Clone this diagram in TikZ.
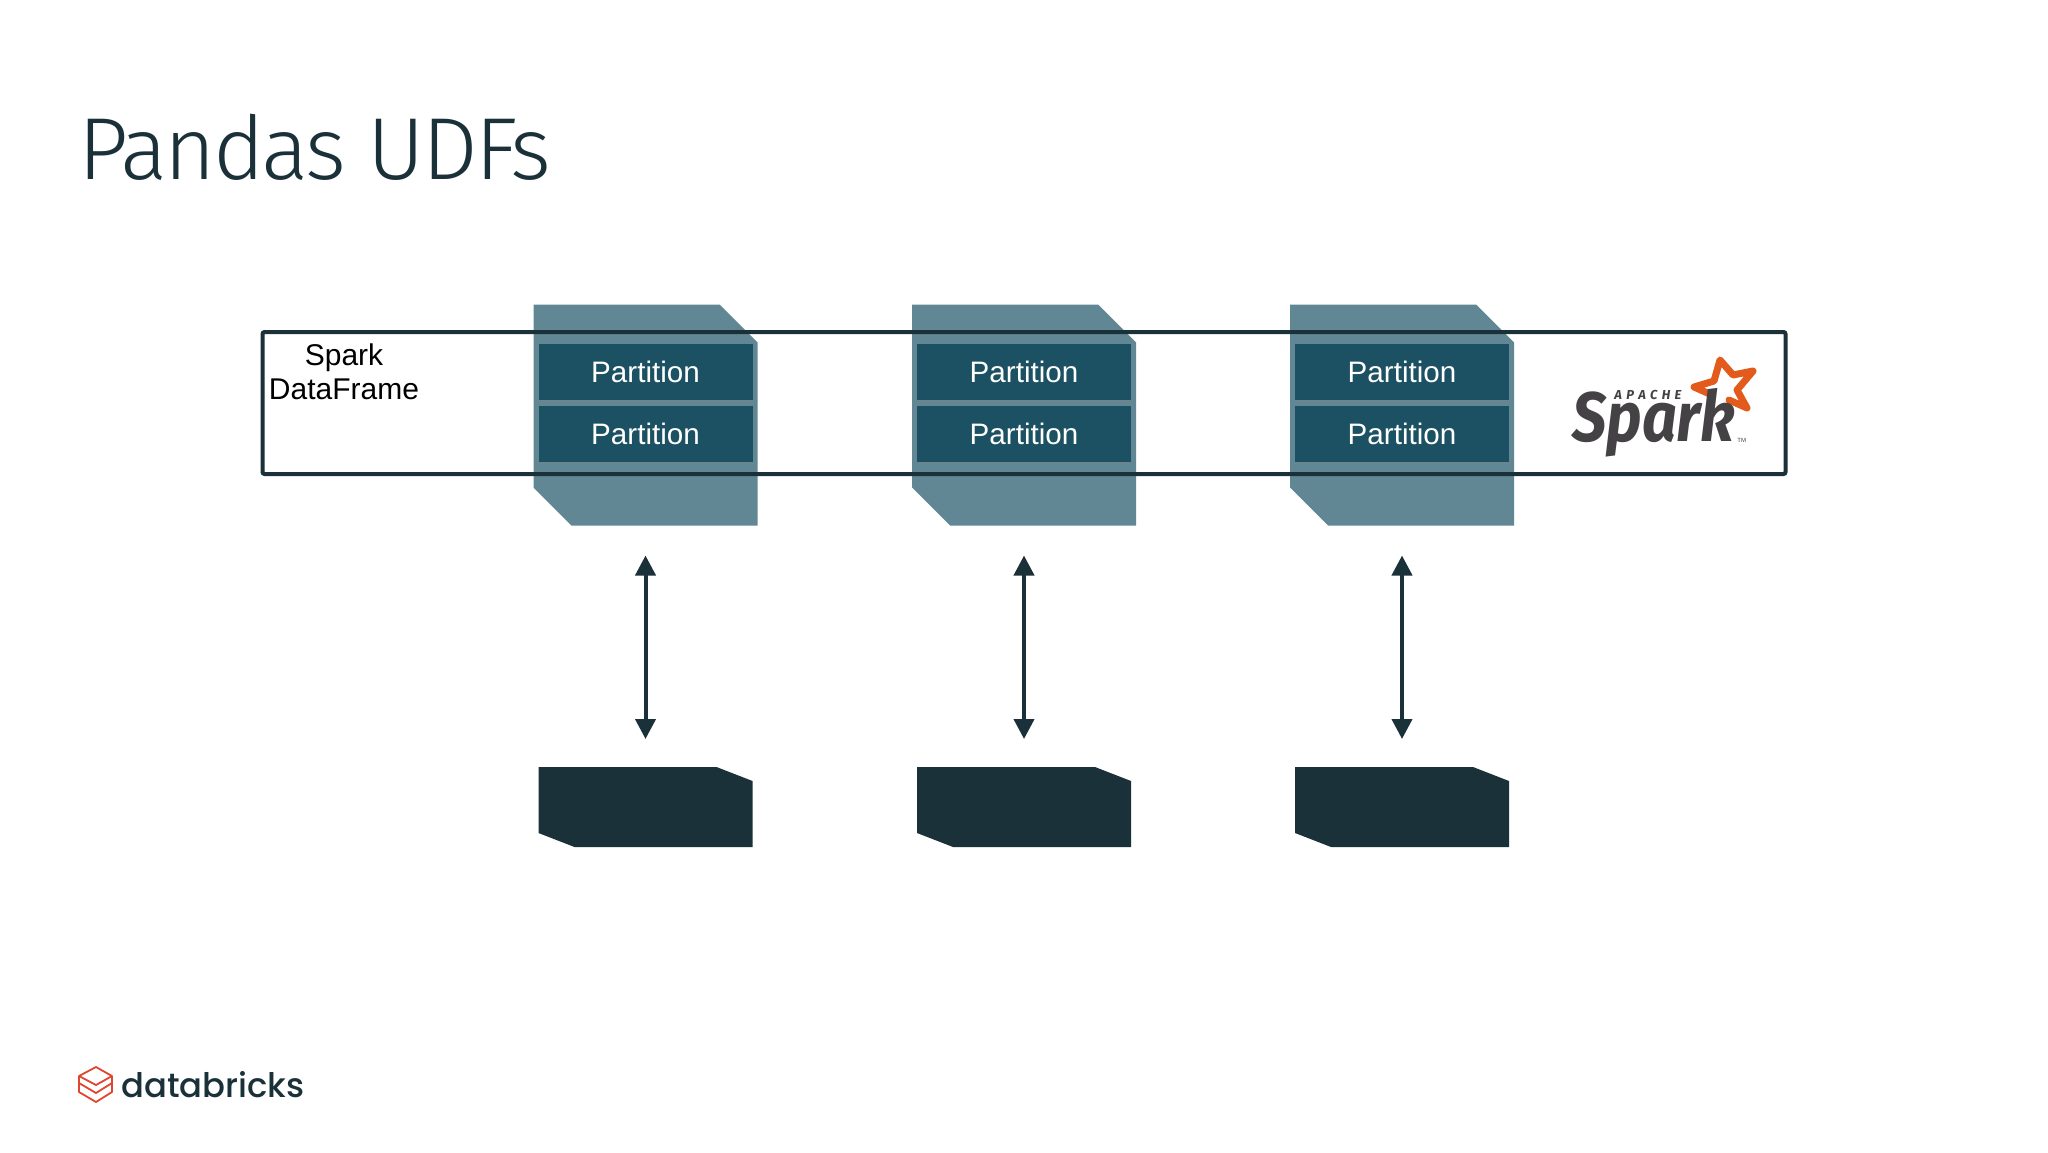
\documentclass[tikz,border=0pt]{standalone}
\usepackage{fontspec}
\setmainfont{Liberation Sans}
\newfontfamily\titlefont[LetterSpace=-3.3]{Fira Sans Light}
\newfontfamily\brandfont{Poppins Medium}
\newfontfamily\logofont{Fira Sans}
\usetikzlibrary{arrows.meta, shadows}
\definecolor{navy}{HTML}{1B3139}
\definecolor{plate}{HTML}{618794}
\definecolor{teal}{HTML}{1B5162}
\definecolor{flame}{HTML}{E25A1C}
\definecolor{coal}{HTML}{444244}
\definecolor{brick}{HTML}{E0452F}
\tikzset{
  platenode/.style={inner sep=0pt, outer sep=0pt, minimum width=112pt, minimum height=110.5pt},
  partnode/.style={fill=teal, text=white, font=\fontsize{14.8}{17}\selectfont, inner sep=0pt,
    minimum width=107pt, minimum height=28pt, drop shadow={shadow xshift=0pt, shadow yshift=-1pt, opacity=0.35}},
  worknode/.style={inner sep=0pt, outer sep=0pt, minimum width=107pt, minimum height=40pt},
  linkarrow/.style={{Triangle[length=10pt,width=10pt]}-{Triangle[length=10pt,width=10pt]}, navy, line width=2pt}
}
% #1 colour, #2 node, #3 and #4 the cut of the two corners
\newcommand{\cutfill}[4]{\fill[#1] (#2.north west) -- ([xshift=-#3]#2.north east) -- ([yshift=-#4]#2.north east)
  -- (#2.south east) -- ([xshift=#3]#2.south west) -- ([yshift=#4]#2.south west) -- cycle;}
\begin{document}
\begin{tikzpicture}[x=0.5pt, y=-0.5pt]
\useasboundingbox[fill=white] (0,0) rectangle (2048,1152);

\node[anchor=base west, inner sep=0pt, text=navy, font=\fontsize{44}{50}\titlefont] (title) at (78,179) {Pandas UDFs};

% one column per partition pair
\foreach \i/\x in {1/645.5, 2/1024, 3/1402} {
  \node[platenode] (file\i) at (\x,415) {};
  \cutfill{plate}{file\i}{19pt}{19pt}
}
\node[draw=navy, line width=2pt, rounded corners=1pt, minimum width=761.5pt, minimum height=71pt, inner sep=0pt] (frame) at (1024,403) {};
\foreach \i/\x in {1/645.5, 2/1024, 3/1402} {
  \node[partnode] (parta\i) at (\x,371.5) {Partition};
  \node[partnode] (partb\i) at (\x,433.5) {Partition};
  \node[worknode] (work\i) at (\x,807) {};
  \cutfill{navy}{work\i}{18pt}{7pt}
  \draw[linkarrow, shorten <=15pt, shorten >=14pt] (file\i.south) -- (work\i.north);
}

\node[align=center, inner sep=0pt, font=\fontsize{15}{17}\selectfont] (dflabel) at (344,372) {Spark\\DataFrame};

% spark logo
\fill[white] (1720,360) -- (1733,375) -- (1753,371) -- (1737,390) -- (1747,408) -- (1729,400) -- (1694,387) -- (1714,381) -- cycle;
\draw[flame, line width=3.5pt, line join=round, line cap=round] (1712,395) -- (1694,387) -- (1714,381) -- (1720,360) -- (1733,375) -- (1753,371) -- (1737,390) -- (1747,408) -- (1729,400);
\node[anchor=base west, inner sep=0pt, text=coal, font=\fontsize{35}{40}\logofont\bfseries\itshape] (sparklogo) at (1572,441) {\scalebox{0.87}[1]{Spark}};
\node[anchor=base west, inner sep=0pt, text=coal, font=\fontsize{6.5}{7}\logofont\bfseries\itshape] (apache) at (1614,399) {A\,\,P\,\,A\,\,C\,\,H\,\,E};
\node[anchor=base west, inner sep=0pt, text=coal, font=\fontsize{3}{4}\selectfont] (tm) at (1737,442) {TM};

% databricks logo
\draw[brick, line width=0.9pt, line join=round] (96,1067) -- (112,1076) -- (96,1085) -- (79,1076) -- cycle;
\draw[brick, line width=0.9pt, line join=round] (79,1076) -- (79,1083) -- (96,1093) -- (112,1083) -- (112,1076);
\draw[brick, line width=0.9pt, line join=round] (79,1083) -- (79,1092) -- (96,1102) -- (112,1092) -- (112,1083);
\node[anchor=base west, inner sep=0pt, text=navy, font=\fontsize{16.9}{22}\brandfont] (brand) at (121,1097) {databricks};
\end{tikzpicture}
\end{document}
